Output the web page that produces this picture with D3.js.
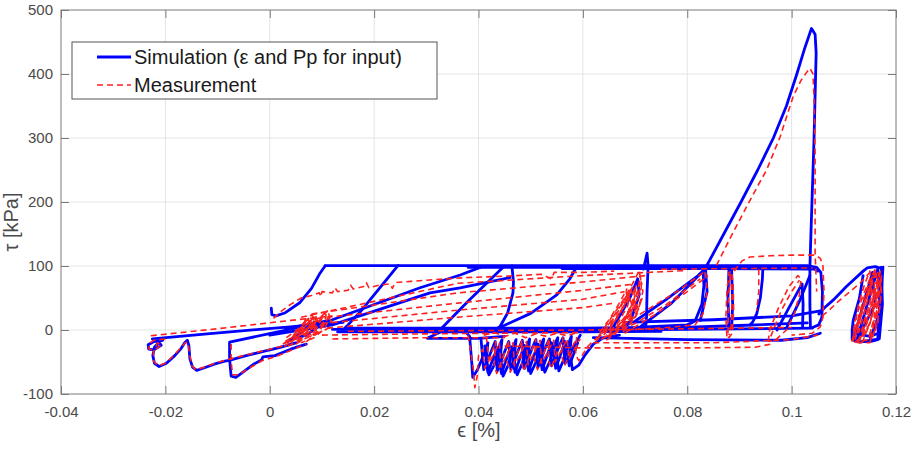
<!DOCTYPE html>
<html>
<head>
<meta charset="utf-8">
<script src="https://cdn.jsdelivr.net/npm/d3@7/dist/d3.min.js"></script>
<style>
  body { margin: 0; background: #fff; }
  text { font-family: "Liberation Sans", Arial, sans-serif; }
</style>
</head>
<body>
<svg id="chart" width="917" height="451"></svg>
<script>
// ---- axis ticks and labels ----
const xTicks = [-0.04, -0.02, 0, 0.02, 0.04, 0.06, 0.08, 0.1, 0.12];
const xTickLabels = ["-0.04", "-0.02", "0", "0.02", "0.04", "0.06", "0.08", "0.1", "0.12"];
const yTicks = [-100, 0, 100, 200, 300, 400, 500];
const yTickLabels = ["-100", "0", "100", "200", "300", "400", "500"];
const seriesNames = ["Simulation (\u03b5 and Pp for input)", "Measurement"];
const xLabel = "\u03f5 [%]";
const yLabel = "\u03c4 [kPa]";

// ---- simulation branches: [strain %, shear stress kPa] ----
const simSawtooth = [[-0.0205,-16],[-0.0222,-18],[-0.0233,-23],[-0.0232,-30],[-0.0222,-31],[-0.0208,-24],[-0.0212,-19],[-0.0221,-27],[-0.0224,-40],[-0.0221,-52],[-0.0212,-57],[-0.0198,-52],[-0.0182,-40],[-0.0170,-29],[-0.0163,-20],[-0.0158,-16],[-0.0155,-24],[-0.0153,-45],[-0.0148,-58],[-0.0140,-63],[-0.0125,-59],[-0.0105,-53],[-0.0088,-49],[-0.0076,-47],[-0.0040,-39],[-0.0010,-33],[0.0020,-27],[0.0050,-20]];
const simBox = [[0.0060,5],[0.0020,-2],[-0.0077,-19],[-0.0077,-45],[-0.0074,-72],[-0.0065,-74],[-0.0050,-65],[-0.0030,-53],[-0.0016,-47],[-0.0013,-42],[0.0010,-40],[0.0040,-30],[0.0070,-22]];
const simLong = [[-0.0225,-14],[-0.0120,-6],[-0.0020,1],[0.0039,5],[0.0100,9],[0.0140,12]];
const simStart = [[0.0003,34],[0.0004,24],[0.0012,22],[0.0030,27],[0.0058,43],[0.0080,65],[0.0095,87],[0.0106,100]];
const simPlateau = [[0.0106,100.5],[0.0600,100.5],[0.1030,100.5],[0.1048,98],[0.1056,90],[0.1059,60],[0.1058,20],[0.1052,8],[0.1040,4]];
const simPlateau2 = [[0.0380,98],[0.0700,98],[0.1040,97.5],[0.1050,92]];
const simPlateau3 = [[0.0560,96],[0.0850,96],[0.1045,95]];
const simUnload = [[0.0246,101],[0.0173,28],[0.0150,8],[0.0140,0]];
const simFanA = [[0.0030,2],[0.0120,16],[0.0288,66],[0.0365,86],[0.0407,99]];
const simFanB = [[0.0000,-8],[0.0120,8],[0.0307,58],[0.0365,66],[0.0460,82]];
const simFanC = [[0.0326,0],[0.0380,45],[0.0447,98]];
const simCurveD = [[0.0464,100],[0.0467,75],[0.0466,58],[0.0456,27],[0.0441,5],[0.0430,0]];
const simCurveE = [[0.0441,4],[0.0500,26],[0.0550,55],[0.0575,80],[0.0589,100]];
const simStrip = [[0.0335,0],[0.0302,-13],[0.0400,-13],[0.0450,-10]];
const simBand1 = [[0.0120,1],[0.0600,0],[0.0800,1],[0.1040,3]];
const simBand2 = [[0.0130,-3],[0.0600,-3],[0.0750,-2]];
const simBand3 = [[0.0150,3],[0.0600,3],[0.0800,5]];
const simLow1 = [[0.0620,-12],[0.0800,-15],[0.0980,-16],[0.1030,-12],[0.1055,-5]];
const simLow2 = [[0.0680,12],[0.0850,16],[0.1000,22],[0.1055,30]];
const simLow3 = [[0.0750,3],[0.0900,7],[0.1030,11]];
const simSpike = [[0.0837,100],[0.0870,150],[0.0903,200],[0.0935,250],[0.0965,300],[0.0990,350],[0.1010,400],[0.1025,440],[0.1038,471],[0.1045,462],[0.1047,433],[0.1043,300],[0.1037,150],[0.1035,98],[0.1035,40],[0.1036,5]];
const simSpur = [[0.0716,95],[0.0723,120],[0.0725,100],[0.0723,60],[0.0722,20],[0.0720,2]];
const simTri1 = [[0.0700,14],[0.0760,48],[0.0821,85],[0.0830,92],[0.0832,70],[0.0828,40],[0.0815,14],[0.0800,8],[0.0720,5]];
const simTri2 = [[0.0710,5],[0.0770,42],[0.0835,96],[0.0838,60],[0.0825,15]];
const simTri3 = [[0.0655,0],[0.0690,50],[0.0705,80],[0.0708,55],[0.0690,10],[0.0665,2]];
const simVert = [[0.0880,98],[0.0878,50],[0.0880,5],[0.0885,2],[0.0887,40],[0.0885,95]];
const simCurve093 = [[0.0945,99],[0.0944,80],[0.0940,50],[0.0933,25],[0.0925,12],[0.0920,8]];
const simTri4 = [[0.0972,0],[0.0995,35],[0.1020,72],[0.1022,40],[0.1021,5]];
const simTri5 = [[0.0990,3],[0.1015,45],[0.1035,85]];
const simLink = [[0.1052,25],[0.1062,34],[0.1080,47],[0.1105,68],[0.1137,92]];
const simCluster = [[0.1137,92],[0.1145,97],[0.1160,99],[0.1168,97],[0.1175,98],[0.1172,60],[0.1168,20],[0.1165,-15],[0.1150,-18],[0.1125,-18],[0.1116,-15],[0.1116,0],[0.1118,15],[0.1130,50],[0.1137,85]];
const simCluster2 = [[0.1120,-10],[0.1155,90],[0.1160,40],[0.1125,-15],[0.1165,95],[0.1170,30],[0.1150,-16]];
const simCluster3 = [[0.1118,-5],[0.1150,-10],[0.1166,-5],[0.1172,98],[0.1174,40],[0.1168,-14],[0.1130,-19],[0.1116,-12]];
const simKnot = [[0.0035,-18],[0.0065,0],[0.0085,12],[0.0095,8],[0.0070,-8],[0.0040,-15]];
const simZigzag = [[0.0375,-3],[0.0383,-10],[0.0387,-50],[0.0389,-74],[0.0398,-62],[0.0412,-35],[0.0418,-20],[0.0415,-45],[0.0420,-70],[0.0430,-55],[0.0440,-25],[0.0445,-15],[0.0442,-40],[0.0447,-72],[0.0457,-55],[0.0467,-25],[0.0472,-15],[0.0468,-45],[0.0474,-70],[0.0484,-52],[0.0494,-22],[0.0498,-14],[0.0495,-40],[0.0500,-68],[0.0510,-50],[0.0520,-22],[0.0525,-14],[0.0521,-40],[0.0527,-66],[0.0537,-48],[0.0547,-20],[0.0552,-12],[0.0549,-38],[0.0554,-64],[0.0564,-45],[0.0574,-18],[0.0578,-10],[0.0575,-35],[0.0580,-62],[0.0592,-55],[0.0605,-38],[0.0620,-22],[0.0640,-12],[0.0670,-8]];
const simZigzag2 = [[0.0405,-16],[0.0410,-62],[0.0425,-32],[0.0432,-18],[0.0436,-64],[0.0450,-34],[0.0458,-18],[0.0462,-62],[0.0476,-32],[0.0484,-16],[0.0488,-60],[0.0502,-30],[0.0510,-15],[0.0514,-58],[0.0528,-28],[0.0536,-14],[0.0540,-56],[0.0554,-26],[0.0562,-12],[0.0566,-52],[0.0584,-24],[0.0595,-8]];
const simZigzag3 = [[0.0412,-25],[0.0418,-66],[0.0436,-28],[0.0444,-68],[0.0462,-26],[0.0470,-66],[0.0488,-24],[0.0496,-64],[0.0514,-22],[0.0522,-62],[0.0540,-20],[0.0548,-60],[0.0566,-18],[0.0574,-56],[0.0590,-20]];

// ---- measured branches ----
const measSawtooth = [[-0.0200,-14],[-0.0222,-16],[-0.0232,-22],[-0.0231,-30],[-0.0220,-31],[-0.0207,-23],[-0.0215,-20],[-0.0223,-35],[-0.0222,-50],[-0.0213,-56],[-0.0198,-51],[-0.0182,-38],[-0.0170,-27],[-0.0162,-20],[-0.0157,-19],[-0.0154,-35],[-0.0150,-55],[-0.0142,-62],[-0.0125,-58],[-0.0105,-52],[-0.0085,-47],[-0.0060,-42],[-0.0030,-36],[0.0000,-30],[0.0030,-24]];
const measBox = [[-0.0074,-22],[-0.0074,-50],[-0.0071,-70],[-0.0060,-70],[-0.0040,-60],[-0.0015,-48],[0.0010,-42],[0.0040,-32],[0.0070,-22]];
const measLong = [[-0.0228,-9],[-0.0100,2],[0.0040,15],[0.0120,22]];
const measWiggle = [[0.0007,18],[0.0020,28],[0.0040,40],[0.0060,50],[0.0080,54],[0.0095,58],[0.0098,52],[0.0100,60],[0.0120,58],[0.0125,66],[0.0130,60],[0.0150,62],[0.0155,70],[0.0160,64],[0.0180,68],[0.0185,74],[0.0190,66],[0.0210,70],[0.0230,72],[0.0235,65],[0.0240,74],[0.0270,76],[0.0320,79],[0.0380,82],[0.0450,84],[0.0520,87],[0.0540,80],[0.0545,90],[0.0600,90],[0.0660,92]];
const measFan1 = [[0.0060,20],[0.0360,73],[0.0600,85],[0.0800,93]];
const measFan2 = [[0.0080,25],[0.0360,58],[0.0600,75],[0.0720,85]];
const measFan3 = [[0.0090,18],[0.0360,42],[0.0600,62],[0.0700,72]];
const measFan4 = [[0.0100,10],[0.0360,31],[0.0600,48],[0.0680,60]];
const measFan5 = [[0.0110,3],[0.0360,20],[0.0600,35],[0.0660,42]];
const measBand1 = [[0.0100,-8],[0.0300,-6],[0.0600,-4]];
const measBand2 = [[0.0120,-14],[0.0300,-12],[0.0450,-12]];
const measBand3 = [[0.0150,-2],[0.0600,0],[0.1000,4]];
const measLow1 = [[0.0450,-25],[0.0600,-28],[0.0800,-28],[0.0930,-27],[0.0960,-22]];
const measLow2 = [[0.0620,-20],[0.0850,-20],[0.1000,-15],[0.1050,-8]];
const measKnot1 = [[0.0025,-22],[0.0050,-8],[0.0070,8],[0.0085,20],[0.0090,14],[0.0075,-2],[0.0050,-14],[0.0025,-22]];
const measKnot2 = [[0.0030,-18],[0.0060,-2],[0.0075,12],[0.0088,22],[0.0092,10],[0.0080,-6],[0.0055,-16],[0.0030,-18]];
const measKnot3 = [[0.0040,-20],[0.0070,0],[0.0095,18],[0.0105,26],[0.0112,28],[0.0115,20],[0.0105,2],[0.0085,-12],[0.0060,-20]];
const measKnot4 = [[0.0050,-12],[0.0075,5],[0.0090,16],[0.0082,0],[0.0065,-10]];
const measKnot5 = [[0.0035,-25],[0.0065,-14],[0.0095,-4],[0.0115,4],[0.0118,14],[0.0110,22]];
const measKnot6 = [[0.0060,-5],[0.0078,15],[0.0082,22],[0.0086,12],[0.0075,-2]];
const measKnot7 = [[0.0045,-8],[0.0068,10],[0.0074,18],[0.0078,6],[0.0062,-6]];
const measKnot8 = [[0.0070,-18],[0.0090,-6],[0.0105,10],[0.0108,24],[0.0100,18],[0.0088,0]];
const measKnot9 = [[0.0028,-26],[0.0045,-15],[0.0062,0],[0.0078,16],[0.0083,10],[0.0068,-6],[0.0048,-20]];
const measKnot10 = [[0.0040,-14],[0.0058,2],[0.0070,14],[0.0080,24],[0.0084,18],[0.0072,2],[0.0055,-10]];
const measKnot11 = [[0.0065,-10],[0.0085,5],[0.0100,20],[0.0110,30],[0.0114,22],[0.0102,6],[0.0082,-8]];
const measKnot12 = [[0.0050,-22],[0.0075,-10],[0.0095,5],[0.0105,14],[0.0098,2],[0.0078,-12]];
const measKnot13 = [[0.0032,-12],[0.0052,0],[0.0066,12],[0.0070,20],[0.0064,6],[0.0048,-6]];
const measZigzag = [[0.0380,-8],[0.0390,-60],[0.0393,-90],[0.0398,-70],[0.0400,-40],[0.0408,-30],[0.0412,-60],[0.0423,-40],[0.0433,-18],[0.0430,-55],[0.0435,-68],[0.0448,-40],[0.0458,-16],[0.0455,-50],[0.0461,-66],[0.0474,-38],[0.0484,-15],[0.0481,-48],[0.0487,-64],[0.0500,-36],[0.0510,-14],[0.0507,-46],[0.0513,-62],[0.0526,-34],[0.0536,-13],[0.0533,-44],[0.0539,-60],[0.0552,-32],[0.0562,-12],[0.0559,-40],[0.0565,-56],[0.0578,-30],[0.0588,-12],[0.0586,-38],[0.0592,-48],[0.0610,-25],[0.0630,-10]];
const measZigzag2 = [[0.0415,-10],[0.0420,-52],[0.0440,-20],[0.0443,-58],[0.0466,-20],[0.0469,-56],[0.0492,-18],[0.0495,-54],[0.0518,-16],[0.0521,-52],[0.0544,-16],[0.0547,-50],[0.0570,-14],[0.0573,-46],[0.0595,-14]];
const measRipple = [[0.0410,-8],[0.0430,-4],[0.0450,-10],[0.0470,-5],[0.0490,-12],[0.0510,-6],[0.0530,-10],[0.0550,-5],[0.0570,-9],[0.0590,-4]];
const measKnotB1 = [[0.0625,-18],[0.0650,10],[0.0670,35],[0.0685,55],[0.0696,68],[0.0700,60],[0.0690,30],[0.0670,5],[0.0645,-12]];
const measKnotB2 = [[0.0630,-10],[0.0655,20],[0.0680,50],[0.0695,72],[0.0705,88],[0.0708,94],[0.0710,80],[0.0700,45],[0.0680,15],[0.0655,-5]];
const measKnotB3 = [[0.0640,-5],[0.0660,15],[0.0680,40],[0.0692,62],[0.0698,50],[0.0685,25],[0.0665,5]];
const measKnotB4 = [[0.0635,-15],[0.0665,5],[0.0690,25],[0.0705,50],[0.0712,75],[0.0715,60],[0.0705,30],[0.0680,5],[0.0650,-10]];
const measKnotB5 = [[0.0650,0],[0.0672,28],[0.0688,52],[0.0694,40],[0.0678,15]];
const measKnotB6 = [[0.0660,-8],[0.0685,18],[0.0702,42],[0.0708,30],[0.0690,8]];
const measKnotB7 = [[0.0628,-14],[0.0648,5],[0.0668,30],[0.0682,50],[0.0690,62],[0.0686,38],[0.0668,12],[0.0645,-8]];
const measKnotB8 = [[0.0640,-8],[0.0662,15],[0.0680,38],[0.0696,58],[0.0702,70],[0.0698,46],[0.0682,20],[0.0660,0]];
const measKnotB9 = [[0.0650,-12],[0.0675,10],[0.0692,35],[0.0706,62],[0.0710,85],[0.0712,66],[0.0700,35],[0.0678,8]];
const measKnotB10 = [[0.0632,-4],[0.0652,18],[0.0672,45],[0.0684,64],[0.0680,40],[0.0660,12]];
const measKnotB11 = [[0.0645,-16],[0.0670,0],[0.0690,18],[0.0708,40],[0.0714,50],[0.0700,20],[0.0675,-5]];
const measTri1 = [[0.0660,0],[0.0720,30],[0.0780,60],[0.0835,92],[0.0838,60],[0.0830,25],[0.0815,8],[0.0750,3],[0.0680,0]];
const measTri2 = [[0.0680,-5],[0.0740,25],[0.0800,60],[0.0840,85]];
const measTri3 = [[0.0640,-12],[0.0700,10],[0.0760,40],[0.0825,80]];
const measOval = [[0.0876,-10],[0.0874,20],[0.0876,60],[0.0880,90],[0.0885,92],[0.0888,70],[0.0889,30],[0.0886,-5],[0.0880,-12],[0.0876,-10]];
const measOval2 = [[0.0878,-5],[0.0879,50],[0.0882,88],[0.0886,60],[0.0885,10],[0.0880,-8]];
const measVert093 = [[0.0937,95],[0.0937,60],[0.0933,30]];
const measLoop = [[0.0955,-18],[0.0958,0],[0.0975,35],[0.0995,68],[0.1012,85],[0.1018,80],[0.1015,55],[0.1005,25],[0.0990,0],[0.0970,-15],[0.0955,-18]];
const measLoop2 = [[0.0960,-10],[0.0980,30],[0.1000,60],[0.1015,78]];
const measCap = [[0.0890,92],[0.0905,108],[0.0920,114],[0.0960,116],[0.1000,117],[0.1045,117],[0.1055,112],[0.1060,100],[0.1062,60],[0.1060,20],[0.1055,5],[0.1040,-5],[0.1000,-8]];
const measTop = [[0.0750,95],[0.0900,96],[0.1040,97]];
const measSpike = [[0.0856,101],[0.0885,148],[0.0914,193],[0.0935,225],[0.0952,250],[0.0978,302],[0.1003,365],[0.1018,390],[0.1030,404],[0.1035,409],[0.1041,400],[0.1043,360],[0.1045,276],[0.1045,180],[0.1045,120],[0.1046,100],[0.1048,60]];
const measLink = [[0.1058,22],[0.1068,28],[0.1090,45],[0.1131,73],[0.1150,90]];
const measKnotC1 = [[0.1118,-18],[0.1120,10],[0.1135,50],[0.1150,80],[0.1162,95],[0.1168,85],[0.1166,40],[0.1160,0],[0.1150,-20],[0.1130,-20],[0.1118,-18]];
const measKnotC2 = [[0.1122,-15],[0.1128,20],[0.1142,60],[0.1158,90],[0.1164,70],[0.1158,20],[0.1148,-15],[0.1130,-18]];
const measKnotC3 = [[0.1125,-5],[0.1135,30],[0.1150,70],[0.1160,50],[0.1150,10],[0.1135,-10]];
const measKnotC4 = [[0.1130,-18],[0.1145,20],[0.1160,60],[0.1170,92],[0.1172,60],[0.1165,10],[0.1150,-18]];
const measKnotC5 = [[0.1120,-12],[0.1140,40],[0.1155,78],[0.1150,40],[0.1135,0]];
const measKnotC6 = [[0.1128,-18],[0.1138,10],[0.1152,50],[0.1165,80],[0.1163,30],[0.1152,-12]];
const measKnotC7 = [[0.1115,-18],[0.1125,5],[0.1140,45],[0.1155,85],[0.1160,96],[0.1158,60],[0.1148,20],[0.1135,-10],[0.1120,-20]];
const measKnotC8 = [[0.1125,-20],[0.1140,0],[0.1155,40],[0.1168,88],[0.1170,70],[0.1162,25],[0.1148,-10]];
const measKnotC9 = [[0.1118,-8],[0.1132,25],[0.1148,65],[0.1162,92],[0.1166,60],[0.1152,15],[0.1135,-15]];
const measKnotC10 = [[0.1135,-20],[0.1150,10],[0.1163,50],[0.1172,85],[0.1170,40],[0.1160,-5],[0.1145,-19]];
const measKnotC11 = [[0.1120,0],[0.1128,40],[0.1140,72],[0.1150,92],[0.1153,70],[0.1140,30],[0.1128,-5]];

const simulation = [simSawtooth, simBox, simLong, simStart, simPlateau, simPlateau2, simPlateau3,
  simUnload, simFanA, simFanB, simFanC, simCurveD, simCurveE, simStrip, simBand1, simBand2, simBand3,
  simLow1, simLow2, simLow3, simSpike, simSpur, simTri1, simTri2, simTri3, simVert, simCurve093,
  simTri4, simTri5, simLink, simCluster, simCluster2, simCluster3, simKnot, simZigzag, simZigzag2,
  simZigzag3];
const measurement = [measSawtooth, measBox, measLong, measWiggle, measFan1, measFan2, measFan3,
  measFan4, measFan5, measBand1, measBand2, measBand3, measLow1, measLow2, measKnot1, measKnot2,
  measKnot3, measKnot4, measKnot5, measKnot6, measKnot7, measKnot8, measKnot9, measKnot10,
  measKnot11, measKnot12, measKnot13, measZigzag, measZigzag2, measRipple, measKnotB1, measKnotB2,
  measKnotB3, measKnotB4, measKnotB5, measKnotB6, measKnotB7, measKnotB8, measKnotB9, measKnotB10,
  measKnotB11, measTri1, measTri2, measTri3, measOval, measOval2, measVert093, measLoop, measLoop2,
  measCap, measTop, measSpike, measLink, measKnotC1, measKnotC2, measKnotC3, measKnotC4, measKnotC5,
  measKnotC6, measKnotC7, measKnotC8, measKnotC9, measKnotC10, measKnotC11];

// ---- layout ----
const svg = d3.select("#chart");
const plot = { left: 61, right: 896, top: 10, bottom: 394 };
const x = d3.scaleLinear().domain([-0.04, 0.12]).range([plot.left, plot.right]);
const y = d3.scaleLinear().domain([-100, 500]).range([plot.bottom, plot.top]);
const axisColor = "#7a7a7a";
const labelColor = "#4a4a4a";

// grid
const grid = svg.append("g");
grid.selectAll("line.gx").data(xTicks.slice(1, -1)).join("line")
  .attr("x1", d => x(d)).attr("x2", d => x(d))
  .attr("y1", plot.top).attr("y2", plot.bottom)
  .attr("stroke", "#e4e4e4").attr("stroke-width", 1);
grid.selectAll("line.gy").data(yTicks.slice(1, -1)).join("line")
  .attr("x1", plot.left).attr("x2", plot.right)
  .attr("y1", d => y(d)).attr("y2", d => y(d))
  .attr("stroke", "#e4e4e4").attr("stroke-width", 1);

// data
svg.append("clipPath").attr("id", "plotClip").append("rect")
  .attr("x", plot.left).attr("y", plot.top)
  .attr("width", plot.right - plot.left).attr("height", plot.bottom - plot.top);
const line = d3.line().x(d => x(d[0])).y(d => y(d[1]));
const dataG = svg.append("g").attr("clip-path", "url(#plotClip)");
dataG.selectAll("path.sim").data(simulation).join("path")
  .attr("class", "sim").attr("d", line)
  .attr("fill", "none").attr("stroke", "#0000ff").attr("stroke-width", 2.8)
  .attr("stroke-linejoin", "round").attr("stroke-linecap", "round");
dataG.selectAll("path.meas").data(measurement).join("path")
  .attr("class", "meas").attr("d", line)
  .attr("fill", "none").attr("stroke", "#ff2020").attr("stroke-width", 1.6)
  .attr("stroke-dasharray", "6,4").attr("stroke-linejoin", "round");

// axes with inward ticks on all four sides
const fmtX = d => xTickLabels[xTicks.indexOf(d)];
const fmtY = d => yTickLabels[yTicks.indexOf(d)];
function styleAxis(g) {
  g.select(".domain").remove();
  g.selectAll(".tick line").attr("stroke", axisColor);
  g.selectAll(".tick text").attr("fill", labelColor).style("font-size", "15px")
    .style("font-family", "'Liberation Sans', Arial, sans-serif");
}
svg.append("g").attr("transform", `translate(0,${plot.bottom})`)
  .call(d3.axisBottom(x).tickValues(xTicks).tickFormat(fmtX).tickSizeInner(-8).tickSizeOuter(0).tickPadding(12))
  .call(styleAxis);
svg.append("g").attr("transform", `translate(${plot.left},0)`)
  .call(d3.axisLeft(y).tickValues(yTicks).tickFormat(fmtY).tickSizeInner(-8).tickSizeOuter(0).tickPadding(8))
  .call(styleAxis);
svg.append("g").attr("transform", `translate(0,${plot.top})`)
  .call(d3.axisTop(x).tickValues(xTicks).tickFormat("").tickSizeInner(-8).tickSizeOuter(0))
  .call(styleAxis);
svg.append("g").attr("transform", `translate(${plot.right},0)`)
  .call(d3.axisRight(y).tickValues(yTicks).tickFormat("").tickSizeInner(-8).tickSizeOuter(0))
  .call(styleAxis);
svg.append("rect")
  .attr("x", plot.left).attr("y", plot.top)
  .attr("width", plot.right - plot.left).attr("height", plot.bottom - plot.top)
  .attr("fill", "none").attr("stroke", axisColor).attr("stroke-width", 1);

// axis titles
svg.append("text").attr("x", 479).attr("y", 437).attr("text-anchor", "middle")
  .attr("fill", labelColor).style("font-size", "20px").text(xLabel);
svg.append("text").attr("transform", "translate(18,222) rotate(-90)").attr("text-anchor", "middle")
  .attr("fill", labelColor).style("font-size", "20px").text(yLabel);

// legend
const legend = svg.append("g");
legend.append("rect").attr("x", 72).attr("y", 42).attr("width", 365).attr("height", 57)
  .attr("fill", "#fff").attr("stroke", "#555").attr("stroke-width", 1);
const legendRows = [
  { name: seriesNames[0], color: "#0000ff", width: 2.8, dash: null, ly: 57, ty: 64 },
  { name: seriesNames[1], color: "#ff2020", width: 1.6, dash: "6,4", ly: 85, ty: 92 }
];
legendRows.forEach(r => {
  legend.append("line").attr("x1", 97).attr("x2", 131).attr("y1", r.ly).attr("y2", r.ly)
    .attr("stroke", r.color).attr("stroke-width", r.width).attr("stroke-dasharray", r.dash);
  legend.append("text").attr("x", 134).attr("y", r.ty).attr("fill", "#1a1a1a")
    .style("font-size", "20px").text(r.name);
});
</script>
</body>
</html>
